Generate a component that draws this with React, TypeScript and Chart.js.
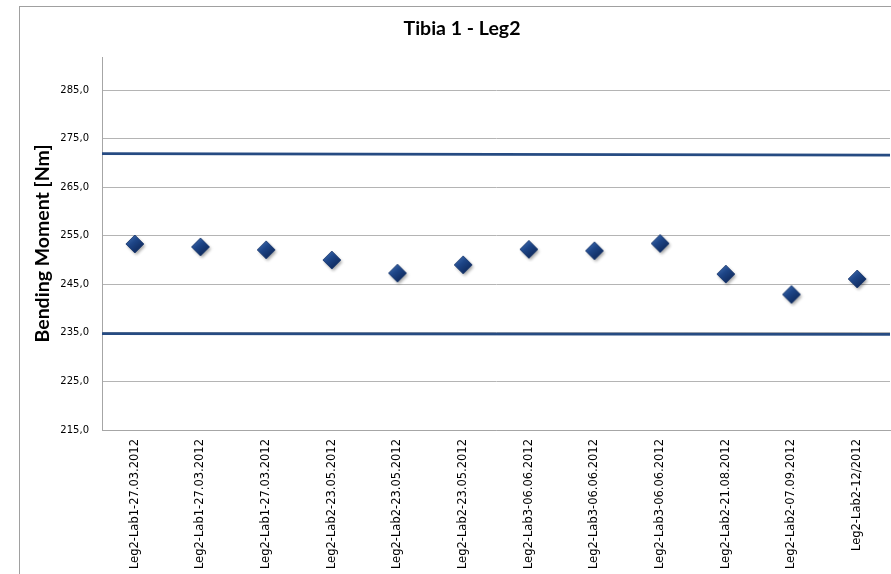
import { useEffect, useRef } from 'react';
import { Chart, registerables } from 'chart.js';
Chart.register(...registerables);

const chartTitle = 'Tibia 1 - Leg2';
const yAxisTitle = 'Bending Moment [Nm]';
const categories = [
  'Leg2-Lab1-27.03.2012',
  'Leg2-Lab1-27.03.2012',
  'Leg2-Lab1-27.03.2012',
  'Leg2-Lab2-23.05.2012',
  'Leg2-Lab2-23.05.2012',
  'Leg2-Lab2-23.05.2012',
  'Leg2-Lab3-06.06.2012',
  'Leg2-Lab3-06.06.2012',
  'Leg2-Lab3-06.06.2012',
  'Leg2-Lab2-21.08.2012',
  'Leg2-Lab2-07.09.2012',
  'Leg2-Lab2-12/2012',
];
const moments = [253.3, 252.7, 252.1, 250.0, 247.3, 249.0, 252.2, 251.9, 253.4, 247.1, 242.9, 246.1];
const limitX = [0, 1];
const upperLimit = [271.9, 271.6];
const lowerLimit = [234.85, 234.7];
const yTicks = [215, 225, 235, 245, 255, 265, 275, 285];
const yMin = 215;
const yMax = 291.8;

function makeDiamond(): HTMLCanvasElement {
  const c = document.createElement('canvas');
  const s = 26;
  c.width = s;
  c.height = s;
  const ctx = c.getContext('2d')!;
  const cx = s / 2;
  const cy = s / 2;
  const r = 9;
  const path = (ox: number, oy: number) => {
    ctx.beginPath();
    ctx.moveTo(cx + ox, cy - r + oy);
    ctx.lineTo(cx + r + ox, cy + oy);
    ctx.lineTo(cx + ox, cy + r + oy);
    ctx.lineTo(cx - r + ox, cy + oy);
    ctx.closePath();
  };
  ctx.save();
  ctx.filter = 'blur(1.5px)';
  path(1.5, 2);
  ctx.fillStyle = 'rgba(0,0,0,0.35)';
  ctx.fill();
  ctx.restore();
  const g = ctx.createLinearGradient(cx - r, cy - r, cx + r * 0.6, cy + r);
  g.addColorStop(0, '#4C78BA');
  g.addColorStop(0.45, '#1E4688');
  g.addColorStop(1, '#0C2454');
  path(0, 0);
  ctx.fillStyle = g;
  ctx.fill();
  ctx.lineWidth = 0.8;
  ctx.strokeStyle = '#15336A';
  ctx.stroke();
  return c;
}

export default function App() {
  const ref = useRef<HTMLCanvasElement | null>(null);
  useEffect(() => {
    if (!ref.current) return;
    const diamond = makeDiamond();
    const chart = new Chart(ref.current, {
      type: 'line',
      data: {
        labels: categories,
        datasets: [
          {
            label: 'Bending Moment',
            data: moments,
            xAxisID: 'x',
            yAxisID: 'y',
            showLine: false,
            pointStyle: diamond as any,
            pointRadius: 9,
            order: 0,
          },
          {
            label: 'Upper limit',
            data: limitX.map((x, i) => ({ x, y: upperLimit[i] })),
            xAxisID: 'xl',
            yAxisID: 'y',
            borderColor: '#264B82',
            borderWidth: 2.8,
            pointRadius: 0,
            order: 1,
          },
          {
            label: 'Lower limit',
            data: limitX.map((x, i) => ({ x, y: lowerLimit[i] })),
            xAxisID: 'xl',
            yAxisID: 'y',
            borderColor: '#264B82',
            borderWidth: 2.8,
            pointRadius: 0,
            order: 1,
          },
        ],
      },
      options: {
        animation: false,
        responsive: false,
        devicePixelRatio: 1,
        layout: { padding: { left: 15, top: 0, right: 15, bottom: 0 } },
        plugins: {
          legend: { display: false },
          tooltip: { enabled: false },
          title: {
            display: true,
            text: chartTitle,
            color: '#000',
            font: { family: 'Lato', size: 19.5, weight: 'bold' },
            padding: { top: 11, bottom: 16.6 },
          },
        },
        scales: {
          x: {
            type: 'category',
            offset: true,
            grid: { display: false, drawTicks: false },
            border: { display: true, color: '#A6A6A6', width: 1 },
            ticks: {
              minRotation: 90,
              maxRotation: 90,
              autoSkip: false,
              padding: 9,
              color: '#000',
              font: { family: 'DejaVu Sans', size: 11.5 },
            },
            afterFit: (s: any) => {
              s.height = 144;
            },
          },
          xl: {
            type: 'linear',
            display: false,
            min: 0,
            max: 1,
          },
          y: {
            type: 'linear',
            min: yMin,
            max: yMax,
            grid: { color: '#B4B4B4', lineWidth: 1, drawTicks: false },
            border: { display: true, color: '#A6A6A6', width: 1 },
            ticks: {
              padding: 13,
              color: '#000',
              font: { family: 'DejaVu Sans', size: 10 },
              callback: (v: any) => Number(v).toFixed(1).replace('.', ','),
            },
            afterBuildTicks: (s: any) => {
              s.ticks = yTicks.map((v) => ({ value: v }));
            },
            title: {
              display: true,
              text: yAxisTitle,
              color: '#000',
              font: { family: 'Lato', size: 19.5, weight: 'bold' },
              padding: { top: -3.2, bottom: 0 },
            },
            afterFit: (s: any) => {
              s.width = 68;
            },
          },
        },
      },
    } as any);
    return () => chart.destroy();
  }, []);
  return (
    <div
      style={{
        position: 'fixed',
        left: 0,
        top: 0,
        width: 891,
        height: 574,
        overflow: 'hidden',
        background: '#fff',
      }}
    >
      <div
        style={{
          position: 'absolute',
          left: 19,
          top: 6,
          width: 1000,
          height: 700,
          borderLeft: '1px solid #A0A0A0',
          borderTop: '1px solid #A0A0A0',
        }}
      />
      <canvas
        ref={ref}
        width={886}
        height={568}
        style={{ position: 'absolute', left: 19, top: 6, width: 886, height: 568 }}
      />
    </div>
  );
}
